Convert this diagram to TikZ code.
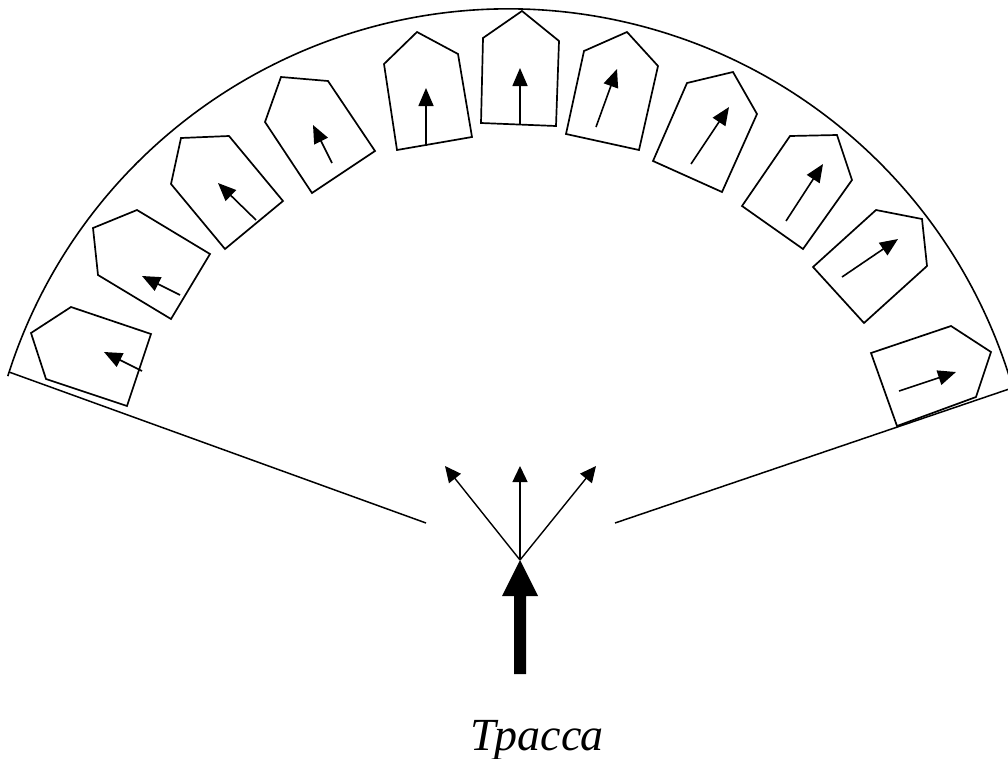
\documentclass[tikz,border=0pt]{standalone}
\usepackage{fontspec}
\setmainfont{Liberation Serif}
\usetikzlibrary{arrows.meta}
\tikzset{
  house/.style={line width=1.7pt, line join=miter},
  dirarrow/.style={line width=1.6pt, -{Triangle[length=18pt,width=15pt]}},
  fanarrow/.style={line width=1.4pt, -{Triangle[length=16pt,width=15pt]}},
  rim/.style={line width=1.6pt},
  edge/.style={line width=1.5pt}
}
\begin{document}
\begin{tikzpicture}[x=1pt,y=-1pt]
\useasboundingbox (0,0) rectangle (1008,758);

% outer rim of the fan
\draw[rim] (7.8,376.1) arc[start angle=197.5, end angle=342.6, radius=525];

% side boundaries
\coordinate (lA) at (9,372);
\coordinate (lB) at (426,523);
\coordinate (rA) at (615,523);
\coordinate (rB) at (1010,388.7);
\draw[edge] (lA) -- (lB);
\draw[edge] (rA) -- (rB);

% houses with their heading arrows
\draw[house] (31,333) -- (71,307) -- (151,334) -- (127,406) -- (46,379) -- cycle;
\draw[dirarrow] (142,371) -- (104,352);
\draw[house] (93,228) -- (137,210) -- (210,254) -- (171,319) -- (98,275) -- cycle;
\draw[dirarrow] (180,295) -- (142,276);
\draw[house] (181,138) -- (229,136) -- (283,201) -- (225,249) -- (171,184) -- cycle;
\draw[dirarrow] (256,220) -- (218,183);
\draw[house] (281,77) -- (328,81) -- (375,151) -- (312,193) -- (265,122) -- cycle;
\draw[dirarrow] (332,163) -- (313,125);
\draw[house] (384,64) -- (417,32) -- (458,54) -- (472,137) -- (397,150) -- cycle;
\draw[dirarrow] (426,146) -- (426,88);
\draw[house] (483,38) -- (522,11) -- (559,41) -- (556,126) -- (481,123) -- cycle;
\draw[dirarrow] (520,125) -- (520,68);
\draw[house] (584,51) -- (627,32) -- (658,66) -- (639,150) -- (566,134) -- cycle;
\draw[dirarrow] (596,127) -- (617,69);
\draw[house] (687,83) -- (733,72) -- (757,114) -- (722,192) -- (653,161) -- cycle;
\draw[dirarrow] (691,164) -- (729,107);
\draw[house] (790,136) -- (837,135) -- (852,180) -- (803,249) -- (742,206) -- cycle;
\draw[dirarrow] (786,221) -- (823,164);
\draw[house] (876,210) -- (922,219) -- (927,266) -- (864,323) -- (813,267) -- cycle;
\draw[dirarrow] (842,277) -- (898,239);
\draw[house] (871,353) -- (951,326) -- (991,352) -- (976,397) -- (897,426) -- cycle;
\draw[dirarrow] (899,391) -- (956,372);

% branching point and the three outgoing directions
\coordinate (hub) at (520,560);
\coordinate (outL) at (445,466);
\coordinate (outM) at (520,466);
\coordinate (outR) at (596,466);
\draw[fanarrow] (hub) -- (outL);
\draw[fanarrow] (hub) -- (outM);
\draw[fanarrow] (hub) -- (outR);

% incoming heavy arrow
\fill (514,674) -- (514,596) -- (502,596) -- (hub) -- (538,596) -- (526,596) -- (526,674) -- cycle;

\node[anchor=base, inner sep=0pt, font=\fontsize{46}{50}\selectfont\itshape] (label) at (537,750) {Трасса};
\end{tikzpicture}
\end{document}
